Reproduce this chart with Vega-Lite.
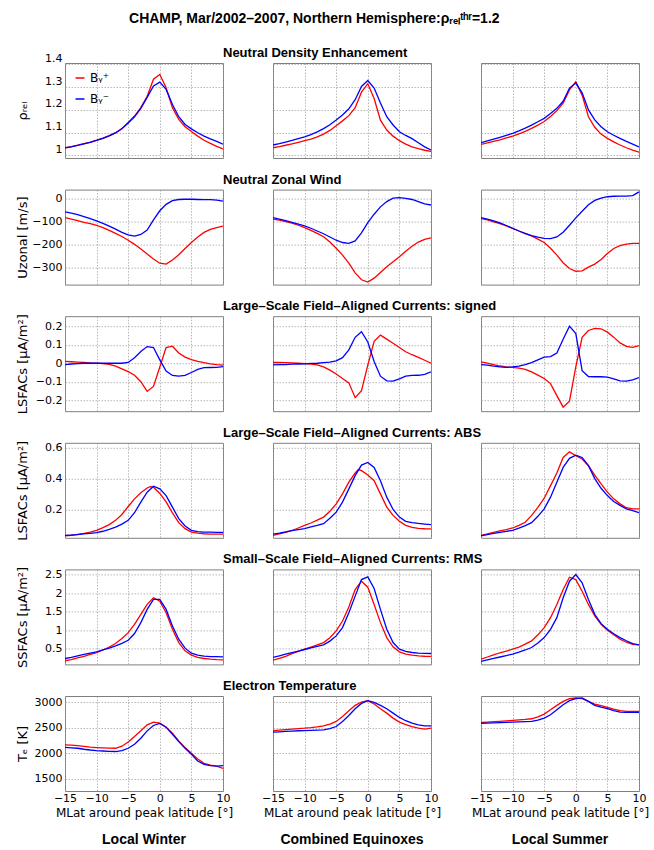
{
"$schema": "https://vega.github.io/schema/vega-lite/v6.json",
"padding": {"left": 15, "top": 11, "right": 5, "bottom": 5},
"background": "white",
"title": {"text": "CHAMP, Mar/2002–2007, Northern Hemisphere:ρᵣₑₗᵗʰʳ=1.2", "anchor": "middle", "fontSize": 14, "offset": 21, "dx": -18, "font": "Liberation Sans", "fontWeight": "bold"},
"config": {
 "font": "DejaVu Sans",
 "view": {"stroke": "#7f7f7f", "strokeWidth": 1},
 "axis": {"grid": true, "gridColor": "#9a9a9a", "gridDash": [1.5, 1.5], "gridWidth": 0.7, "gridOpacity": 1, "domain": false, "ticks": false, "labelFont": "DejaVu Sans", "labelFontSize": 11, "labelColor": "#000", "labelPadding": 3, "labelFlush": false, "labelOverlap": false, "titleFont": "DejaVu Sans", "titleFontWeight": "normal", "titleColor": "#000", "titleFontSize": 12, "format": "~f"},
 "axisY": {"minExtent": 30, "maxExtent": 30, "titlePadding": 6, "titleFontSize": 13},
 "axisX": {"tickSize": 0, "labelPadding": 1, "titlePadding": 4},
 "title": {"font": "Liberation Sans", "fontWeight": "bold", "fontSize": 13, "color": "#000"}
},
"bounds": "flush",
"columns": 3,
"spacing": {"row": 31.6, "column": 50},
"datasets": {
"r1c1": [
{"x":-15,"s":"+","v":1.034},{"x":-14,"s":"+","v":1.039},{"x":-13,"s":"+","v":1.045},{"x":-12,"s":"+","v":1.052},{"x":-11,"s":"+","v":1.059},{"x":-10,"s":"+","v":1.067},{"x":-9,"s":"+","v":1.076},{"x":-8,"s":"+","v":1.087},{"x":-7,"s":"+","v":1.1},{"x":-6,"s":"+","v":1.118},{"x":-5,"s":"+","v":1.145},{"x":-4,"s":"+","v":1.173},{"x":-3,"s":"+","v":1.21},{"x":-2,"s":"+","v":1.26},{"x":-1,"s":"+","v":1.335},{"x":0,"s":"+","v":1.356},{"x":1,"s":"+","v":1.297},{"x":2,"s":"+","v":1.21},{"x":3,"s":"+","v":1.158},{"x":4,"s":"+","v":1.126},{"x":5,"s":"+","v":1.105},{"x":6,"s":"+","v":1.085},{"x":7,"s":"+","v":1.067},{"x":8,"s":"+","v":1.053},{"x":9,"s":"+","v":1.04},{"x":10,"s":"+","v":1.029},
{"x":-15,"s":"-","v":1.033},{"x":-14,"s":"-","v":1.038},{"x":-13,"s":"-","v":1.044},{"x":-12,"s":"-","v":1.051},{"x":-11,"s":"-","v":1.058},{"x":-10,"s":"-","v":1.066},{"x":-9,"s":"-","v":1.075},{"x":-8,"s":"-","v":1.086},{"x":-7,"s":"-","v":1.099},{"x":-6,"s":"-","v":1.117},{"x":-5,"s":"-","v":1.143},{"x":-4,"s":"-","v":1.17},{"x":-3,"s":"-","v":1.207},{"x":-2,"s":"-","v":1.255},{"x":-1,"s":"-","v":1.305},{"x":0,"s":"-","v":1.322},{"x":1,"s":"-","v":1.29},{"x":2,"s":"-","v":1.224},{"x":3,"s":"-","v":1.17},{"x":4,"s":"-","v":1.136},{"x":5,"s":"-","v":1.117},{"x":6,"s":"-","v":1.1},{"x":7,"s":"-","v":1.085},{"x":8,"s":"-","v":1.073},{"x":9,"s":"-","v":1.062},{"x":10,"s":"-","v":1.05}
],
"r1c2": [
{"x":-15,"s":"+","v":1.034},{"x":-14,"s":"+","v":1.039},{"x":-13,"s":"+","v":1.045},{"x":-12,"s":"+","v":1.051},{"x":-11,"s":"+","v":1.058},{"x":-10,"s":"+","v":1.065},{"x":-9,"s":"+","v":1.072},{"x":-8,"s":"+","v":1.082},{"x":-7,"s":"+","v":1.094},{"x":-6,"s":"+","v":1.11},{"x":-5,"s":"+","v":1.131},{"x":-4,"s":"+","v":1.152},{"x":-3,"s":"+","v":1.175},{"x":-2,"s":"+","v":1.21},{"x":-1,"s":"+","v":1.278},{"x":0,"s":"+","v":1.315},{"x":1,"s":"+","v":1.25},{"x":2,"s":"+","v":1.155},{"x":3,"s":"+","v":1.112},{"x":4,"s":"+","v":1.085},{"x":5,"s":"+","v":1.065},{"x":6,"s":"+","v":1.05},{"x":7,"s":"+","v":1.038},{"x":8,"s":"+","v":1.03},{"x":9,"s":"+","v":1.023},{"x":10,"s":"+","v":1.018},
{"x":-15,"s":"-","v":1.046},{"x":-14,"s":"-","v":1.052},{"x":-13,"s":"-","v":1.059},{"x":-12,"s":"-","v":1.066},{"x":-11,"s":"-","v":1.074},{"x":-10,"s":"-","v":1.082},{"x":-9,"s":"-","v":1.092},{"x":-8,"s":"-","v":1.104},{"x":-7,"s":"-","v":1.118},{"x":-6,"s":"-","v":1.135},{"x":-5,"s":"-","v":1.156},{"x":-4,"s":"-","v":1.178},{"x":-3,"s":"-","v":1.205},{"x":-2,"s":"-","v":1.245},{"x":-1,"s":"-","v":1.303},{"x":0,"s":"-","v":1.329},{"x":1,"s":"-","v":1.296},{"x":2,"s":"-","v":1.23},{"x":3,"s":"-","v":1.17},{"x":4,"s":"-","v":1.134},{"x":5,"s":"-","v":1.104},{"x":6,"s":"-","v":1.088},{"x":7,"s":"-","v":1.074},{"x":8,"s":"-","v":1.056},{"x":9,"s":"-","v":1.038},{"x":10,"s":"-","v":1.024}
],
"r1c3": [
{"x":-15,"s":"+","v":1.049},{"x":-14,"s":"+","v":1.055},{"x":-13,"s":"+","v":1.062},{"x":-12,"s":"+","v":1.069},{"x":-11,"s":"+","v":1.077},{"x":-10,"s":"+","v":1.085},{"x":-9,"s":"+","v":1.095},{"x":-8,"s":"+","v":1.106},{"x":-7,"s":"+","v":1.119},{"x":-6,"s":"+","v":1.133},{"x":-5,"s":"+","v":1.149},{"x":-4,"s":"+","v":1.171},{"x":-3,"s":"+","v":1.197},{"x":-2,"s":"+","v":1.23},{"x":-1,"s":"+","v":1.288},{"x":0,"s":"+","v":1.324},{"x":1,"s":"+","v":1.265},{"x":2,"s":"+","v":1.17},{"x":3,"s":"+","v":1.124},{"x":4,"s":"+","v":1.094},{"x":5,"s":"+","v":1.075},{"x":6,"s":"+","v":1.06},{"x":7,"s":"+","v":1.046},{"x":8,"s":"+","v":1.034},{"x":9,"s":"+","v":1.024},{"x":10,"s":"+","v":1.015},
{"x":-15,"s":"-","v":1.056},{"x":-14,"s":"-","v":1.064},{"x":-13,"s":"-","v":1.072},{"x":-12,"s":"-","v":1.08},{"x":-11,"s":"-","v":1.088},{"x":-10,"s":"-","v":1.097},{"x":-9,"s":"-","v":1.108},{"x":-8,"s":"-","v":1.12},{"x":-7,"s":"-","v":1.133},{"x":-6,"s":"-","v":1.148},{"x":-5,"s":"-","v":1.163},{"x":-4,"s":"-","v":1.184},{"x":-3,"s":"-","v":1.207},{"x":-2,"s":"-","v":1.238},{"x":-1,"s":"-","v":1.296},{"x":0,"s":"-","v":1.318},{"x":1,"s":"-","v":1.275},{"x":2,"s":"-","v":1.2},{"x":3,"s":"-","v":1.156},{"x":4,"s":"-","v":1.126},{"x":5,"s":"-","v":1.104},{"x":6,"s":"-","v":1.089},{"x":7,"s":"-","v":1.075},{"x":8,"s":"-","v":1.062},{"x":9,"s":"-","v":1.05},{"x":10,"s":"-","v":1.038}
],
"r2c1": [
{"x":-15,"s":"+","v":-82},{"x":-14,"s":"+","v":-88},{"x":-13,"s":"+","v":-95},{"x":-12,"s":"+","v":-102},{"x":-11,"s":"+","v":-108},{"x":-10,"s":"+","v":-115},{"x":-9,"s":"+","v":-125},{"x":-8,"s":"+","v":-137},{"x":-7,"s":"+","v":-150},{"x":-6,"s":"+","v":-164},{"x":-5,"s":"+","v":-180},{"x":-4,"s":"+","v":-198},{"x":-3,"s":"+","v":-218},{"x":-2,"s":"+","v":-240},{"x":-1,"s":"+","v":-262},{"x":0,"s":"+","v":-280},{"x":1,"s":"+","v":-284},{"x":2,"s":"+","v":-266},{"x":3,"s":"+","v":-243},{"x":4,"s":"+","v":-216},{"x":5,"s":"+","v":-190},{"x":6,"s":"+","v":-166},{"x":7,"s":"+","v":-146},{"x":8,"s":"+","v":-133},{"x":9,"s":"+","v":-125},{"x":10,"s":"+","v":-119},
{"x":-15,"s":"-","v":-57},{"x":-14,"s":"-","v":-62},{"x":-13,"s":"-","v":-69},{"x":-12,"s":"-","v":-77},{"x":-11,"s":"-","v":-86},{"x":-10,"s":"-","v":-96},{"x":-9,"s":"-","v":-107},{"x":-8,"s":"-","v":-119},{"x":-7,"s":"-","v":-132},{"x":-6,"s":"-","v":-146},{"x":-5,"s":"-","v":-157},{"x":-4,"s":"-","v":-162},{"x":-3,"s":"-","v":-155},{"x":-2,"s":"-","v":-136},{"x":-1,"s":"-","v":-92},{"x":0,"s":"-","v":-52},{"x":1,"s":"-","v":-24},{"x":2,"s":"-","v":-8},{"x":3,"s":"-","v":-3},{"x":4,"s":"-","v":-2},{"x":5,"s":"-","v":-2},{"x":6,"s":"-","v":-3},{"x":7,"s":"-","v":-4},{"x":8,"s":"-","v":-4},{"x":9,"s":"-","v":-6},{"x":10,"s":"-","v":-10}
],
"r2c2": [
{"x":-15,"s":"+","v":-88},{"x":-14,"s":"+","v":-93},{"x":-13,"s":"+","v":-99},{"x":-12,"s":"+","v":-106},{"x":-11,"s":"+","v":-115},{"x":-10,"s":"+","v":-125},{"x":-9,"s":"+","v":-137},{"x":-8,"s":"+","v":-150},{"x":-7,"s":"+","v":-165},{"x":-6,"s":"+","v":-188},{"x":-5,"s":"+","v":-215},{"x":-4,"s":"+","v":-245},{"x":-3,"s":"+","v":-280},{"x":-2,"s":"+","v":-322},{"x":-1,"s":"+","v":-352},{"x":0,"s":"+","v":-362},{"x":1,"s":"+","v":-345},{"x":2,"s":"+","v":-320},{"x":3,"s":"+","v":-295},{"x":4,"s":"+","v":-274},{"x":5,"s":"+","v":-252},{"x":6,"s":"+","v":-228},{"x":7,"s":"+","v":-206},{"x":8,"s":"+","v":-188},{"x":9,"s":"+","v":-176},{"x":10,"s":"+","v":-170},
{"x":-15,"s":"-","v":-82},{"x":-14,"s":"-","v":-88},{"x":-13,"s":"-","v":-95},{"x":-12,"s":"-","v":-102},{"x":-11,"s":"-","v":-110},{"x":-10,"s":"-","v":-118},{"x":-9,"s":"-","v":-128},{"x":-8,"s":"-","v":-140},{"x":-7,"s":"-","v":-152},{"x":-6,"s":"-","v":-166},{"x":-5,"s":"-","v":-180},{"x":-4,"s":"-","v":-190},{"x":-3,"s":"-","v":-194},{"x":-2,"s":"-","v":-183},{"x":-1,"s":"-","v":-148},{"x":0,"s":"-","v":-104},{"x":1,"s":"-","v":-67},{"x":2,"s":"-","v":-35},{"x":3,"s":"-","v":-12},{"x":4,"s":"-","v":3},{"x":5,"s":"-","v":5},{"x":6,"s":"-","v":2},{"x":7,"s":"-","v":-3},{"x":8,"s":"-","v":-12},{"x":9,"s":"-","v":-22},{"x":10,"s":"-","v":-27}
],
"r2c3": [
{"x":-15,"s":"+","v":-86},{"x":-14,"s":"+","v":-92},{"x":-13,"s":"+","v":-100},{"x":-12,"s":"+","v":-108},{"x":-11,"s":"+","v":-118},{"x":-10,"s":"+","v":-129},{"x":-9,"s":"+","v":-140},{"x":-8,"s":"+","v":-150},{"x":-7,"s":"+","v":-161},{"x":-6,"s":"+","v":-175},{"x":-5,"s":"+","v":-190},{"x":-4,"s":"+","v":-215},{"x":-3,"s":"+","v":-245},{"x":-2,"s":"+","v":-278},{"x":-1,"s":"+","v":-303},{"x":0,"s":"+","v":-315},{"x":1,"s":"+","v":-313},{"x":2,"s":"+","v":-297},{"x":3,"s":"+","v":-284},{"x":4,"s":"+","v":-264},{"x":5,"s":"+","v":-238},{"x":6,"s":"+","v":-216},{"x":7,"s":"+","v":-204},{"x":8,"s":"+","v":-197},{"x":9,"s":"+","v":-194},{"x":10,"s":"+","v":-194},
{"x":-15,"s":"-","v":-82},{"x":-14,"s":"-","v":-88},{"x":-13,"s":"-","v":-96},{"x":-12,"s":"-","v":-105},{"x":-11,"s":"-","v":-116},{"x":-10,"s":"-","v":-128},{"x":-9,"s":"-","v":-140},{"x":-8,"s":"-","v":-151},{"x":-7,"s":"-","v":-160},{"x":-6,"s":"-","v":-167},{"x":-5,"s":"-","v":-172},{"x":-4,"s":"-","v":-173},{"x":-3,"s":"-","v":-166},{"x":-2,"s":"-","v":-145},{"x":-1,"s":"-","v":-115},{"x":0,"s":"-","v":-83},{"x":1,"s":"-","v":-54},{"x":2,"s":"-","v":-26},{"x":3,"s":"-","v":-7},{"x":4,"s":"-","v":3},{"x":5,"s":"-","v":9},{"x":6,"s":"-","v":11},{"x":7,"s":"-","v":12},{"x":8,"s":"-","v":12},{"x":9,"s":"-","v":14},{"x":10,"s":"-","v":30}
],
"r3c1": [
{"x":-15,"s":"+","v":0.01},{"x":-14,"s":"+","v":0.008},{"x":-13,"s":"+","v":0.006},{"x":-12,"s":"+","v":0.004},{"x":-11,"s":"+","v":0.002},{"x":-10,"s":"+","v":0.001},{"x":-9,"s":"+","v":-0.002},{"x":-8,"s":"+","v":-0.006},{"x":-7,"s":"+","v":-0.016},{"x":-6,"s":"+","v":-0.03},{"x":-5,"s":"+","v":-0.045},{"x":-4,"s":"+","v":-0.065},{"x":-3,"s":"+","v":-0.1},{"x":-2,"s":"+","v":-0.152},{"x":-1,"s":"+","v":-0.125},{"x":0,"s":"+","v":-0.02},{"x":1,"s":"+","v":0.085},{"x":2,"s":"+","v":0.092},{"x":3,"s":"+","v":0.055},{"x":4,"s":"+","v":0.033},{"x":5,"s":"+","v":0.02},{"x":6,"s":"+","v":0.01},{"x":7,"s":"+","v":0.003},{"x":8,"s":"+","v":-0.003},{"x":9,"s":"+","v":-0.008},{"x":10,"s":"+","v":-0.01},
{"x":-15,"s":"-","v":-0.007},{"x":-14,"s":"-","v":-0.004},{"x":-13,"s":"-","v":-0.002},{"x":-12,"s":"-","v":0},{"x":-11,"s":"-","v":0},{"x":-10,"s":"-","v":0},{"x":-9,"s":"-","v":0},{"x":-8,"s":"-","v":0},{"x":-7,"s":"-","v":0},{"x":-6,"s":"-","v":0},{"x":-5,"s":"-","v":0.004},{"x":-4,"s":"-","v":0.03},{"x":-3,"s":"-","v":0.063},{"x":-2,"s":"-","v":0.09},{"x":-1,"s":"-","v":0.085},{"x":0,"s":"-","v":0.018},{"x":1,"s":"-","v":-0.042},{"x":2,"s":"-","v":-0.066},{"x":3,"s":"-","v":-0.07},{"x":4,"s":"-","v":-0.065},{"x":5,"s":"-","v":-0.05},{"x":6,"s":"-","v":-0.033},{"x":7,"s":"-","v":-0.024},{"x":8,"s":"-","v":-0.023},{"x":9,"s":"-","v":-0.022},{"x":10,"s":"-","v":-0.018}
],
"r3c2": [
{"x":-15,"s":"+","v":0.004},{"x":-14,"s":"+","v":0.004},{"x":-13,"s":"+","v":0.003},{"x":-12,"s":"+","v":0.002},{"x":-11,"s":"+","v":0},{"x":-10,"s":"+","v":-0.002},{"x":-9,"s":"+","v":-0.005},{"x":-8,"s":"+","v":-0.009},{"x":-7,"s":"+","v":-0.02},{"x":-6,"s":"+","v":-0.037},{"x":-5,"s":"+","v":-0.058},{"x":-4,"s":"+","v":-0.082},{"x":-3,"s":"+","v":-0.106},{"x":-2,"s":"+","v":-0.186},{"x":-1,"s":"+","v":-0.148},{"x":0,"s":"+","v":-0.01},{"x":1,"s":"+","v":0.118},{"x":2,"s":"+","v":0.152},{"x":3,"s":"+","v":0.13},{"x":4,"s":"+","v":0.108},{"x":5,"s":"+","v":0.085},{"x":6,"s":"+","v":0.062},{"x":7,"s":"+","v":0.046},{"x":8,"s":"+","v":0.032},{"x":9,"s":"+","v":0.016},{"x":10,"s":"+","v":0},
{"x":-15,"s":"-","v":-0.009},{"x":-14,"s":"-","v":-0.008},{"x":-13,"s":"-","v":-0.007},{"x":-12,"s":"-","v":-0.005},{"x":-11,"s":"-","v":-0.004},{"x":-10,"s":"-","v":-0.003},{"x":-9,"s":"-","v":-0.001},{"x":-8,"s":"-","v":0},{"x":-7,"s":"-","v":0.003},{"x":-6,"s":"-","v":0.006},{"x":-5,"s":"-","v":0.013},{"x":-4,"s":"-","v":0.03},{"x":-3,"s":"-","v":0.072},{"x":-2,"s":"-","v":0.14},{"x":-1,"s":"-","v":0.17},{"x":0,"s":"-","v":0.115},{"x":1,"s":"-","v":0.009},{"x":2,"s":"-","v":-0.07},{"x":3,"s":"-","v":-0.095},{"x":4,"s":"-","v":-0.097},{"x":5,"s":"-","v":-0.084},{"x":6,"s":"-","v":-0.07},{"x":7,"s":"-","v":-0.066},{"x":8,"s":"-","v":-0.065},{"x":9,"s":"-","v":-0.06},{"x":10,"s":"-","v":-0.046}
],
"r3c3": [
{"x":-15,"s":"+","v":0.007},{"x":-14,"s":"+","v":0},{"x":-13,"s":"+","v":-0.008},{"x":-12,"s":"+","v":-0.015},{"x":-11,"s":"+","v":-0.02},{"x":-10,"s":"+","v":-0.022},{"x":-9,"s":"+","v":-0.026},{"x":-8,"s":"+","v":-0.033},{"x":-7,"s":"+","v":-0.047},{"x":-6,"s":"+","v":-0.064},{"x":-5,"s":"+","v":-0.082},{"x":-4,"s":"+","v":-0.11},{"x":-3,"s":"+","v":-0.175},{"x":-2,"s":"+","v":-0.237},{"x":-1,"s":"+","v":-0.205},{"x":0,"s":"+","v":-0.02},{"x":1,"s":"+","v":0.14},{"x":2,"s":"+","v":0.177},{"x":3,"s":"+","v":0.188},{"x":4,"s":"+","v":0.186},{"x":5,"s":"+","v":0.168},{"x":6,"s":"+","v":0.141},{"x":7,"s":"+","v":0.11},{"x":8,"s":"+","v":0.091},{"x":9,"s":"+","v":0.086},{"x":10,"s":"+","v":0.095},
{"x":-15,"s":"-","v":-0.007},{"x":-14,"s":"-","v":-0.01},{"x":-13,"s":"-","v":-0.016},{"x":-12,"s":"-","v":-0.02},{"x":-11,"s":"-","v":-0.022},{"x":-10,"s":"-","v":-0.02},{"x":-9,"s":"-","v":-0.016},{"x":-8,"s":"-","v":-0.008},{"x":-7,"s":"-","v":0.003},{"x":-6,"s":"-","v":0.018},{"x":-5,"s":"-","v":0.033},{"x":-4,"s":"-","v":0.036},{"x":-3,"s":"-","v":0.055},{"x":-2,"s":"-","v":0.13},{"x":-1,"s":"-","v":0.2},{"x":0,"s":"-","v":0.16},{"x":1,"s":"-","v":-0.04},{"x":2,"s":"-","v":-0.072},{"x":3,"s":"-","v":-0.073},{"x":4,"s":"-","v":-0.073},{"x":5,"s":"-","v":-0.075},{"x":6,"s":"-","v":-0.085},{"x":7,"s":"-","v":-0.095},{"x":8,"s":"-","v":-0.097},{"x":9,"s":"-","v":-0.09},{"x":10,"s":"-","v":-0.077}
],
"r4c1": [
{"x":-15,"s":"+","v":0.032},{"x":-14,"s":"+","v":0.036},{"x":-13,"s":"+","v":0.042},{"x":-12,"s":"+","v":0.048},{"x":-11,"s":"+","v":0.057},{"x":-10,"s":"+","v":0.068},{"x":-9,"s":"+","v":0.085},{"x":-8,"s":"+","v":0.105},{"x":-7,"s":"+","v":0.132},{"x":-6,"s":"+","v":0.17},{"x":-5,"s":"+","v":0.221},{"x":-4,"s":"+","v":0.27},{"x":-3,"s":"+","v":0.309},{"x":-2,"s":"+","v":0.34},{"x":-1.5,"s":"+","v":0.348},{"x":-1,"s":"+","v":0.345},{"x":0,"s":"+","v":0.305},{"x":1,"s":"+","v":0.25},{"x":2,"s":"+","v":0.18},{"x":3,"s":"+","v":0.117},{"x":4,"s":"+","v":0.079},{"x":5,"s":"+","v":0.057},{"x":6,"s":"+","v":0.05},{"x":7,"s":"+","v":0.046},{"x":8,"s":"+","v":0.044},{"x":9,"s":"+","v":0.043},{"x":10,"s":"+","v":0.043},
{"x":-15,"s":"-","v":0.036},{"x":-14,"s":"-","v":0.038},{"x":-13,"s":"-","v":0.041},{"x":-12,"s":"-","v":0.045},{"x":-11,"s":"-","v":0.049},{"x":-10,"s":"-","v":0.053},{"x":-9,"s":"-","v":0.062},{"x":-8,"s":"-","v":0.074},{"x":-7,"s":"-","v":0.089},{"x":-6,"s":"-","v":0.108},{"x":-5,"s":"-","v":0.132},{"x":-4,"s":"-","v":0.181},{"x":-3,"s":"-","v":0.249},{"x":-2,"s":"-","v":0.313},{"x":-1,"s":"-","v":0.351},{"x":0,"s":"-","v":0.334},{"x":1,"s":"-","v":0.291},{"x":2,"s":"-","v":0.217},{"x":3,"s":"-","v":0.143},{"x":4,"s":"-","v":0.096},{"x":5,"s":"-","v":0.068},{"x":6,"s":"-","v":0.06},{"x":7,"s":"-","v":0.057},{"x":8,"s":"-","v":0.056},{"x":9,"s":"-","v":0.055},{"x":10,"s":"-","v":0.055}
],
"r4c2": [
{"x":-15,"s":"+","v":0.036},{"x":-14,"s":"+","v":0.045},{"x":-13,"s":"+","v":0.055},{"x":-12,"s":"+","v":0.067},{"x":-11,"s":"+","v":0.083},{"x":-10,"s":"+","v":0.1},{"x":-9,"s":"+","v":0.115},{"x":-8,"s":"+","v":0.133},{"x":-7,"s":"+","v":0.153},{"x":-6,"s":"+","v":0.19},{"x":-5,"s":"+","v":0.238},{"x":-4,"s":"+","v":0.302},{"x":-3,"s":"+","v":0.377},{"x":-2,"s":"+","v":0.436},{"x":-1.5,"s":"+","v":0.458},{"x":-1,"s":"+","v":0.451},{"x":0,"s":"+","v":0.423},{"x":1,"s":"+","v":0.387},{"x":2,"s":"+","v":0.302},{"x":3,"s":"+","v":0.217},{"x":4,"s":"+","v":0.164},{"x":5,"s":"+","v":0.126},{"x":6,"s":"+","v":0.1},{"x":7,"s":"+","v":0.087},{"x":8,"s":"+","v":0.081},{"x":9,"s":"+","v":0.078},{"x":10,"s":"+","v":0.077},
{"x":-15,"s":"-","v":0.043},{"x":-14,"s":"-","v":0.05},{"x":-13,"s":"-","v":0.058},{"x":-12,"s":"-","v":0.066},{"x":-11,"s":"-","v":0.073},{"x":-10,"s":"-","v":0.079},{"x":-9,"s":"-","v":0.09},{"x":-8,"s":"-","v":0.1},{"x":-7,"s":"-","v":0.111},{"x":-6,"s":"-","v":0.145},{"x":-5,"s":"-","v":0.185},{"x":-4,"s":"-","v":0.249},{"x":-3,"s":"-","v":0.334},{"x":-2,"s":"-","v":0.419},{"x":-1,"s":"-","v":0.487},{"x":0,"s":"-","v":0.504},{"x":1,"s":"-","v":0.472},{"x":2,"s":"-","v":0.387},{"x":3,"s":"-","v":0.281},{"x":4,"s":"-","v":0.202},{"x":5,"s":"-","v":0.153},{"x":6,"s":"-","v":0.126},{"x":7,"s":"-","v":0.117},{"x":8,"s":"-","v":0.112},{"x":9,"s":"-","v":0.108},{"x":10,"s":"-","v":0.104}
],
"r4c3": [
{"x":-15,"s":"+","v":0.036},{"x":-14,"s":"+","v":0.045},{"x":-13,"s":"+","v":0.055},{"x":-12,"s":"+","v":0.064},{"x":-11,"s":"+","v":0.073},{"x":-10,"s":"+","v":0.083},{"x":-9,"s":"+","v":0.1},{"x":-8,"s":"+","v":0.12},{"x":-7,"s":"+","v":0.164},{"x":-6,"s":"+","v":0.215},{"x":-5,"s":"+","v":0.274},{"x":-4,"s":"+","v":0.355},{"x":-3,"s":"+","v":0.436},{"x":-2,"s":"+","v":0.536},{"x":-1,"s":"+","v":0.572},{"x":0,"s":"+","v":0.547},{"x":1,"s":"+","v":0.526},{"x":2,"s":"+","v":0.483},{"x":3,"s":"+","v":0.423},{"x":4,"s":"+","v":0.366},{"x":5,"s":"+","v":0.313},{"x":6,"s":"+","v":0.27},{"x":7,"s":"+","v":0.238},{"x":8,"s":"+","v":0.213},{"x":9,"s":"+","v":0.206},{"x":10,"s":"+","v":0.206},
{"x":-15,"s":"-","v":0.032},{"x":-14,"s":"-","v":0.04},{"x":-13,"s":"-","v":0.048},{"x":-12,"s":"-","v":0.055},{"x":-11,"s":"-","v":0.061},{"x":-10,"s":"-","v":0.068},{"x":-9,"s":"-","v":0.082},{"x":-8,"s":"-","v":0.098},{"x":-7,"s":"-","v":0.117},{"x":-6,"s":"-","v":0.158},{"x":-5,"s":"-","v":0.206},{"x":-4,"s":"-","v":0.281},{"x":-3,"s":"-","v":0.377},{"x":-2,"s":"-","v":0.472},{"x":-1,"s":"-","v":0.53},{"x":0,"s":"-","v":0.551},{"x":1,"s":"-","v":0.536},{"x":2,"s":"-","v":0.483},{"x":3,"s":"-","v":0.4},{"x":4,"s":"-","v":0.338},{"x":5,"s":"-","v":0.291},{"x":6,"s":"-","v":0.253},{"x":7,"s":"-","v":0.228},{"x":8,"s":"-","v":0.206},{"x":9,"s":"-","v":0.194},{"x":10,"s":"-","v":0.181}
],
"r5c1": [
{"x":-15,"s":"+","v":0.168},{"x":-14,"s":"+","v":0.2},{"x":-13,"s":"+","v":0.245},{"x":-12,"s":"+","v":0.29},{"x":-11,"s":"+","v":0.34},{"x":-10,"s":"+","v":0.39},{"x":-9,"s":"+","v":0.46},{"x":-8,"s":"+","v":0.54},{"x":-7,"s":"+","v":0.635},{"x":-6,"s":"+","v":0.77},{"x":-5,"s":"+","v":0.93},{"x":-4,"s":"+","v":1.155},{"x":-3,"s":"+","v":1.424},{"x":-2,"s":"+","v":1.693},{"x":-1,"s":"+","v":1.872},{"x":0,"s":"+","v":1.78},{"x":1,"s":"+","v":1.47},{"x":2,"s":"+","v":1.02},{"x":3,"s":"+","v":0.66},{"x":4,"s":"+","v":0.437},{"x":5,"s":"+","v":0.32},{"x":6,"s":"+","v":0.26},{"x":7,"s":"+","v":0.23},{"x":8,"s":"+","v":0.21},{"x":9,"s":"+","v":0.2},{"x":10,"s":"+","v":0.195},
{"x":-15,"s":"-","v":0.23},{"x":-14,"s":"-","v":0.26},{"x":-13,"s":"-","v":0.3},{"x":-12,"s":"-","v":0.34},{"x":-11,"s":"-","v":0.375},{"x":-10,"s":"-","v":0.41},{"x":-9,"s":"-","v":0.46},{"x":-8,"s":"-","v":0.51},{"x":-7,"s":"-","v":0.572},{"x":-6,"s":"-","v":0.64},{"x":-5,"s":"-","v":0.724},{"x":-4,"s":"-","v":0.904},{"x":-3,"s":"-","v":1.2},{"x":-2,"s":"-","v":1.558},{"x":-1,"s":"-","v":1.827},{"x":0,"s":"-","v":1.827},{"x":1,"s":"-","v":1.558},{"x":2,"s":"-","v":1.11},{"x":3,"s":"-","v":0.751},{"x":4,"s":"-","v":0.509},{"x":5,"s":"-","v":0.374},{"x":6,"s":"-","v":0.32},{"x":7,"s":"-","v":0.294},{"x":8,"s":"-","v":0.283},{"x":9,"s":"-","v":0.278},{"x":10,"s":"-","v":0.276}
],
"r5c2": [
{"x":-15,"s":"+","v":0.186},{"x":-14,"s":"+","v":0.23},{"x":-13,"s":"+","v":0.29},{"x":-12,"s":"+","v":0.36},{"x":-11,"s":"+","v":0.42},{"x":-10,"s":"+","v":0.482},{"x":-9,"s":"+","v":0.54},{"x":-8,"s":"+","v":0.6},{"x":-7,"s":"+","v":0.66},{"x":-6,"s":"+","v":0.79},{"x":-5,"s":"+","v":0.975},{"x":-4,"s":"+","v":1.244},{"x":-3,"s":"+","v":1.621},{"x":-2,"s":"+","v":2.096},{"x":-1,"s":"+","v":2.32},{"x":0,"s":"+","v":2.159},{"x":1,"s":"+","v":1.693},{"x":2,"s":"+","v":1.2},{"x":3,"s":"+","v":0.796},{"x":4,"s":"+","v":0.545},{"x":5,"s":"+","v":0.41},{"x":6,"s":"+","v":0.35},{"x":7,"s":"+","v":0.32},{"x":8,"s":"+","v":0.3},{"x":9,"s":"+","v":0.29},{"x":10,"s":"+","v":0.285},
{"x":-15,"s":"-","v":0.258},{"x":-14,"s":"-","v":0.3},{"x":-13,"s":"-","v":0.345},{"x":-12,"s":"-","v":0.39},{"x":-11,"s":"-","v":0.43},{"x":-10,"s":"-","v":0.473},{"x":-9,"s":"-","v":0.52},{"x":-8,"s":"-","v":0.56},{"x":-7,"s":"-","v":0.599},{"x":-6,"s":"-","v":0.7},{"x":-5,"s":"-","v":0.841},{"x":-4,"s":"-","v":1.065},{"x":-3,"s":"-","v":1.469},{"x":-2,"s":"-","v":1.917},{"x":-1,"s":"-","v":2.366},{"x":0,"s":"-","v":2.437},{"x":1,"s":"-","v":2.123},{"x":2,"s":"-","v":1.558},{"x":3,"s":"-","v":1.02},{"x":4,"s":"-","v":0.661},{"x":5,"s":"-","v":0.482},{"x":6,"s":"-","v":0.42},{"x":7,"s":"-","v":0.392},{"x":8,"s":"-","v":0.375},{"x":9,"s":"-","v":0.367},{"x":10,"s":"-","v":0.365}
],
"r5c3": [
{"x":-15,"s":"+","v":0.213},{"x":-14,"s":"+","v":0.27},{"x":-13,"s":"+","v":0.33},{"x":-12,"s":"+","v":0.385},{"x":-11,"s":"+","v":0.43},{"x":-10,"s":"+","v":0.482},{"x":-9,"s":"+","v":0.54},{"x":-8,"s":"+","v":0.62},{"x":-7,"s":"+","v":0.706},{"x":-6,"s":"+","v":0.87},{"x":-5,"s":"+","v":1.065},{"x":-4,"s":"+","v":1.334},{"x":-3,"s":"+","v":1.693},{"x":-2,"s":"+","v":2.096},{"x":-1,"s":"+","v":2.428},{"x":0,"s":"+","v":2.365},{"x":1,"s":"+","v":2.05},{"x":2,"s":"+","v":1.693},{"x":3,"s":"+","v":1.379},{"x":4,"s":"+","v":1.155},{"x":5,"s":"+","v":0.993},{"x":6,"s":"+","v":0.87},{"x":7,"s":"+","v":0.751},{"x":8,"s":"+","v":0.67},{"x":9,"s":"+","v":0.61},{"x":10,"s":"+","v":0.599},
{"x":-15,"s":"-","v":0.15},{"x":-14,"s":"-","v":0.19},{"x":-13,"s":"-","v":0.23},{"x":-12,"s":"-","v":0.27},{"x":-11,"s":"-","v":0.31},{"x":-10,"s":"-","v":0.348},{"x":-9,"s":"-","v":0.4},{"x":-8,"s":"-","v":0.46},{"x":-7,"s":"-","v":0.527},{"x":-6,"s":"-","v":0.65},{"x":-5,"s":"-","v":0.796},{"x":-4,"s":"-","v":1.02},{"x":-3,"s":"-","v":1.334},{"x":-2,"s":"-","v":1.872},{"x":-1,"s":"-","v":2.321},{"x":0,"s":"-","v":2.5},{"x":1,"s":"-","v":2.276},{"x":2,"s":"-","v":1.827},{"x":3,"s":"-","v":1.424},{"x":4,"s":"-","v":1.173},{"x":5,"s":"-","v":1.02},{"x":6,"s":"-","v":0.9},{"x":7,"s":"-","v":0.796},{"x":8,"s":"-","v":0.71},{"x":9,"s":"-","v":0.635},{"x":10,"s":"-","v":0.599}
],
"r6c1": [
{"x":-15,"s":"+","v":2164},{"x":-14,"s":"+","v":2160},{"x":-13,"s":"+","v":2151},{"x":-12,"s":"+","v":2135},{"x":-11,"s":"+","v":2120},{"x":-10,"s":"+","v":2112},{"x":-9,"s":"+","v":2105},{"x":-8,"s":"+","v":2100},{"x":-7,"s":"+","v":2099},{"x":-6,"s":"+","v":2140},{"x":-5,"s":"+","v":2220},{"x":-4,"s":"+","v":2329},{"x":-3,"s":"+","v":2441},{"x":-2,"s":"+","v":2559},{"x":-1,"s":"+","v":2612},{"x":0,"s":"+","v":2592},{"x":1,"s":"+","v":2513},{"x":2,"s":"+","v":2395},{"x":3,"s":"+","v":2243},{"x":4,"s":"+","v":2112},{"x":5,"s":"+","v":2000},{"x":6,"s":"+","v":1888},{"x":7,"s":"+","v":1803},{"x":8,"s":"+","v":1770},{"x":9,"s":"+","v":1750},{"x":10,"s":"+","v":1704},
{"x":-15,"s":"-","v":2118},{"x":-14,"s":"-","v":2108},{"x":-13,"s":"-","v":2099},{"x":-12,"s":"-","v":2080},{"x":-11,"s":"-","v":2065},{"x":-10,"s":"-","v":2053},{"x":-9,"s":"-","v":2045},{"x":-8,"s":"-","v":2038},{"x":-7,"s":"-","v":2035},{"x":-6,"s":"-","v":2053},{"x":-5,"s":"-","v":2099},{"x":-4,"s":"-","v":2178},{"x":-3,"s":"-","v":2296},{"x":-2,"s":"-","v":2441},{"x":-1,"s":"-","v":2546},{"x":0,"s":"-","v":2586},{"x":1,"s":"-","v":2513},{"x":2,"s":"-","v":2375},{"x":3,"s":"-","v":2230},{"x":4,"s":"-","v":2099},{"x":5,"s":"-","v":1980},{"x":6,"s":"-","v":1849},{"x":7,"s":"-","v":1783},{"x":8,"s":"-","v":1757},{"x":9,"s":"-","v":1750},{"x":10,"s":"-","v":1757}
],
"r6c2": [
{"x":-15,"s":"+","v":2447},{"x":-14,"s":"+","v":2455},{"x":-13,"s":"+","v":2465},{"x":-12,"s":"+","v":2475},{"x":-11,"s":"+","v":2484},{"x":-10,"s":"+","v":2493},{"x":-9,"s":"+","v":2505},{"x":-8,"s":"+","v":2520},{"x":-7,"s":"+","v":2539},{"x":-6,"s":"+","v":2575},{"x":-5,"s":"+","v":2625},{"x":-4,"s":"+","v":2724},{"x":-3,"s":"+","v":2836},{"x":-2,"s":"+","v":2941},{"x":-1,"s":"+","v":3007},{"x":0,"s":"+","v":3033},{"x":1,"s":"+","v":2967},{"x":2,"s":"+","v":2875},{"x":3,"s":"+","v":2789},{"x":4,"s":"+","v":2691},{"x":5,"s":"+","v":2612},{"x":6,"s":"+","v":2565},{"x":7,"s":"+","v":2526},{"x":8,"s":"+","v":2495},{"x":9,"s":"+","v":2474},{"x":10,"s":"+","v":2493},
{"x":-15,"s":"-","v":2414},{"x":-14,"s":"-","v":2422},{"x":-13,"s":"-","v":2430},{"x":-12,"s":"-","v":2437},{"x":-11,"s":"-","v":2443},{"x":-10,"s":"-","v":2447},{"x":-9,"s":"-","v":2452},{"x":-8,"s":"-","v":2456},{"x":-7,"s":"-","v":2461},{"x":-6,"s":"-","v":2485},{"x":-5,"s":"-","v":2526},{"x":-4,"s":"-","v":2625},{"x":-3,"s":"-","v":2743},{"x":-2,"s":"-","v":2875},{"x":-1,"s":"-","v":2980},{"x":0,"s":"-","v":3033},{"x":1,"s":"-","v":3000},{"x":2,"s":"-","v":2941},{"x":3,"s":"-","v":2875},{"x":4,"s":"-","v":2789},{"x":5,"s":"-","v":2704},{"x":6,"s":"-","v":2640},{"x":7,"s":"-","v":2592},{"x":8,"s":"-","v":2560},{"x":9,"s":"-","v":2539},{"x":10,"s":"-","v":2539}
],
"r6c3": [
{"x":-15,"s":"+","v":2605},{"x":-14,"s":"+","v":2612},{"x":-13,"s":"+","v":2620},{"x":-12,"s":"+","v":2628},{"x":-11,"s":"+","v":2636},{"x":-10,"s":"+","v":2645},{"x":-9,"s":"+","v":2655},{"x":-8,"s":"+","v":2665},{"x":-7,"s":"+","v":2678},{"x":-6,"s":"+","v":2715},{"x":-5,"s":"+","v":2770},{"x":-4,"s":"+","v":2855},{"x":-3,"s":"+","v":2941},{"x":-2,"s":"+","v":3020},{"x":-1,"s":"+","v":3072},{"x":0,"s":"+","v":3086},{"x":1,"s":"+","v":3072},{"x":2,"s":"+","v":3020},{"x":3,"s":"+","v":2967},{"x":4,"s":"+","v":2935},{"x":5,"s":"+","v":2901},{"x":6,"s":"+","v":2865},{"x":7,"s":"+","v":2836},{"x":8,"s":"+","v":2822},{"x":9,"s":"+","v":2822},{"x":10,"s":"+","v":2822},
{"x":-15,"s":"-","v":2586},{"x":-14,"s":"-","v":2592},{"x":-13,"s":"-","v":2598},{"x":-12,"s":"-","v":2604},{"x":-11,"s":"-","v":2608},{"x":-10,"s":"-","v":2612},{"x":-9,"s":"-","v":2616},{"x":-8,"s":"-","v":2620},{"x":-7,"s":"-","v":2625},{"x":-6,"s":"-","v":2652},{"x":-5,"s":"-","v":2691},{"x":-4,"s":"-","v":2757},{"x":-3,"s":"-","v":2855},{"x":-2,"s":"-","v":2954},{"x":-1,"s":"-","v":3033},{"x":0,"s":"-","v":3072},{"x":1,"s":"-","v":3086},{"x":2,"s":"-","v":3020},{"x":3,"s":"-","v":2941},{"x":4,"s":"-","v":2905},{"x":5,"s":"-","v":2875},{"x":6,"s":"-","v":2840},{"x":7,"s":"-","v":2809},{"x":8,"s":"-","v":2803},{"x":9,"s":"-","v":2803},{"x":10,"s":"-","v":2803}
]
},
"concat": [
{"width":158,"height":95,"data":{"name":"r1c1"},"mark":{"type":"line","strokeWidth":1.3,"clip":true},"encoding":{"x":{"field":"x","type":"quantitative","scale":{"domain":[-15,10],"nice":false},"axis":{"values":[-15,-10,-5,0,5,10],"labels":false,"title":null}},"y":{"field":"v","type":"quantitative","scale":{"domain":[0.989,1.406],"nice":false,"zero":false},"axis":{"values":[1,1.1,1.2,1.3,1.4],"labelOffset":-6,"title":"ρᵣₑₗ"}},"color":{"field":"s","type":"nominal","scale":{"domain":["+","-"],"range":["#ff0000","#0000ff"]},"legend":{"orient":"top-left","offset":6,"padding":3,"title":null,"symbolType":"stroke","symbolStrokeWidth":1.5,"symbolSize":80,"labelFont":"DejaVu Sans","labelFontSize":12,"rowPadding":9,"labelExpr":"datum.label == '+' ? 'Bᵧ⁺' : 'Bᵧ⁻'"}}}},
{"width":158,"height":95,"data":{"name":"r1c2"},"title":{"text":"Neutral Density Enhancement","anchor":"start","dx":-50,"frame":"group","offset":3},"mark":{"type":"line","strokeWidth":1.3,"clip":true},"encoding":{"x":{"field":"x","type":"quantitative","scale":{"domain":[-15,10],"nice":false},"axis":{"values":[-15,-10,-5,0,5,10],"labels":false,"title":null}},"y":{"field":"v","type":"quantitative","scale":{"domain":[0.989,1.406],"nice":false,"zero":false},"axis":{"values":[1,1.1,1.2,1.3,1.4],"labels":false,"title":null}},"color":{"field":"s","type":"nominal","scale":{"domain":["+","-"],"range":["#ff0000","#0000ff"]},"legend":null}}},
{"width":158,"height":95,"data":{"name":"r1c3"},"mark":{"type":"line","strokeWidth":1.3,"clip":true},"encoding":{"x":{"field":"x","type":"quantitative","scale":{"domain":[-15,10],"nice":false},"axis":{"values":[-15,-10,-5,0,5,10],"labels":false,"title":null}},"y":{"field":"v","type":"quantitative","scale":{"domain":[0.989,1.406],"nice":false,"zero":false},"axis":{"values":[1,1.1,1.2,1.3,1.4],"labels":false,"title":null}},"color":{"field":"s","type":"nominal","scale":{"domain":["+","-"],"range":["#ff0000","#0000ff"]},"legend":null}}},

{"width":158,"height":95,"data":{"name":"r2c1"},"mark":{"type":"line","strokeWidth":1.3,"clip":true},"encoding":{"x":{"field":"x","type":"quantitative","scale":{"domain":[-15,10],"nice":false},"axis":{"values":[-15,-10,-5,0,5,10],"labels":false,"title":null}},"y":{"field":"v","type":"quantitative","scale":{"domain":[-373,40],"nice":false,"zero":false},"axis":{"values":[-300,-200,-100,0],"title":"Uzonal [m/s]"}},"color":{"field":"s","type":"nominal","scale":{"domain":["+","-"],"range":["#ff0000","#0000ff"]},"legend":null}}},
{"width":158,"height":95,"data":{"name":"r2c2"},"title":{"text":"Neutral Zonal Wind","anchor":"start","dx":-50,"frame":"group","offset":3},"mark":{"type":"line","strokeWidth":1.3,"clip":true},"encoding":{"x":{"field":"x","type":"quantitative","scale":{"domain":[-15,10],"nice":false},"axis":{"values":[-15,-10,-5,0,5,10],"labels":false,"title":null}},"y":{"field":"v","type":"quantitative","scale":{"domain":[-373,40],"nice":false,"zero":false},"axis":{"values":[-300,-200,-100,0],"labels":false,"title":null}},"color":{"field":"s","type":"nominal","scale":{"domain":["+","-"],"range":["#ff0000","#0000ff"]},"legend":null}}},
{"width":158,"height":95,"data":{"name":"r2c3"},"mark":{"type":"line","strokeWidth":1.3,"clip":true},"encoding":{"x":{"field":"x","type":"quantitative","scale":{"domain":[-15,10],"nice":false},"axis":{"values":[-15,-10,-5,0,5,10],"labels":false,"title":null}},"y":{"field":"v","type":"quantitative","scale":{"domain":[-373,40],"nice":false,"zero":false},"axis":{"values":[-300,-200,-100,0],"labels":false,"title":null}},"color":{"field":"s","type":"nominal","scale":{"domain":["+","-"],"range":["#ff0000","#0000ff"]},"legend":null}}},

{"width":158,"height":95,"data":{"name":"r3c1"},"mark":{"type":"line","strokeWidth":1.3,"clip":true},"encoding":{"x":{"field":"x","type":"quantitative","scale":{"domain":[-15,10],"nice":false},"axis":{"values":[-15,-10,-5,0,5,10],"labels":false,"title":null}},"y":{"field":"v","type":"quantitative","scale":{"domain":[-0.259,0.254],"nice":false,"zero":false},"axis":{"values":[-0.2,-0.1,0,0.1,0.2],"title":"LSFACs [μA/m²]"}},"color":{"field":"s","type":"nominal","scale":{"domain":["+","-"],"range":["#ff0000","#0000ff"]},"legend":null}}},
{"width":158,"height":95,"data":{"name":"r3c2"},"title":{"text":"Large–Scale Field–Aligned Currents: signed","anchor":"start","dx":-50,"frame":"group","offset":3},"mark":{"type":"line","strokeWidth":1.3,"clip":true},"encoding":{"x":{"field":"x","type":"quantitative","scale":{"domain":[-15,10],"nice":false},"axis":{"values":[-15,-10,-5,0,5,10],"labels":false,"title":null}},"y":{"field":"v","type":"quantitative","scale":{"domain":[-0.259,0.254],"nice":false,"zero":false},"axis":{"values":[-0.2,-0.1,0,0.1,0.2],"labels":false,"title":null}},"color":{"field":"s","type":"nominal","scale":{"domain":["+","-"],"range":["#ff0000","#0000ff"]},"legend":null}}},
{"width":158,"height":95,"data":{"name":"r3c3"},"mark":{"type":"line","strokeWidth":1.3,"clip":true},"encoding":{"x":{"field":"x","type":"quantitative","scale":{"domain":[-15,10],"nice":false},"axis":{"values":[-15,-10,-5,0,5,10],"labels":false,"title":null}},"y":{"field":"v","type":"quantitative","scale":{"domain":[-0.259,0.254],"nice":false,"zero":false},"axis":{"values":[-0.2,-0.1,0,0.1,0.2],"labels":false,"title":null}},"color":{"field":"s","type":"nominal","scale":{"domain":["+","-"],"range":["#ff0000","#0000ff"]},"legend":null}}},

{"width":158,"height":95,"data":{"name":"r4c1"},"mark":{"type":"line","strokeWidth":1.3,"clip":true},"encoding":{"x":{"field":"x","type":"quantitative","scale":{"domain":[-15,10],"nice":false},"axis":{"values":[-15,-10,-5,0,5,10],"labels":false,"title":null}},"y":{"field":"v","type":"quantitative","scale":{"domain":[0.02,0.63],"nice":false,"zero":false},"axis":{"values":[0.2,0.4,0.6],"title":"LSFACs [μA/m²]"}},"color":{"field":"s","type":"nominal","scale":{"domain":["+","-"],"range":["#ff0000","#0000ff"]},"legend":null}}},
{"width":158,"height":95,"data":{"name":"r4c2"},"title":{"text":"Large–Scale Field–Aligned Currents: ABS","anchor":"start","dx":-50,"frame":"group","offset":3},"mark":{"type":"line","strokeWidth":1.3,"clip":true},"encoding":{"x":{"field":"x","type":"quantitative","scale":{"domain":[-15,10],"nice":false},"axis":{"values":[-15,-10,-5,0,5,10],"labels":false,"title":null}},"y":{"field":"v","type":"quantitative","scale":{"domain":[0.02,0.63],"nice":false,"zero":false},"axis":{"values":[0.2,0.4,0.6],"labels":false,"title":null}},"color":{"field":"s","type":"nominal","scale":{"domain":["+","-"],"range":["#ff0000","#0000ff"]},"legend":null}}},
{"width":158,"height":95,"data":{"name":"r4c3"},"mark":{"type":"line","strokeWidth":1.3,"clip":true},"encoding":{"x":{"field":"x","type":"quantitative","scale":{"domain":[-15,10],"nice":false},"axis":{"values":[-15,-10,-5,0,5,10],"labels":false,"title":null}},"y":{"field":"v","type":"quantitative","scale":{"domain":[0.02,0.63],"nice":false,"zero":false},"axis":{"values":[0.2,0.4,0.6],"labels":false,"title":null}},"color":{"field":"s","type":"nominal","scale":{"domain":["+","-"],"range":["#ff0000","#0000ff"]},"legend":null}}},

{"width":158,"height":95,"data":{"name":"r5c1"},"mark":{"type":"line","strokeWidth":1.3,"clip":true},"encoding":{"x":{"field":"x","type":"quantitative","scale":{"domain":[-15,10],"nice":false},"axis":{"values":[-15,-10,-5,0,5,10],"labels":false,"title":null}},"y":{"field":"v","type":"quantitative","scale":{"domain":[0.07,2.64],"nice":false,"zero":false},"axis":{"values":[0.5,1,1.5,2,2.5],"title":"SSFACs [μA/m²]"}},"color":{"field":"s","type":"nominal","scale":{"domain":["+","-"],"range":["#ff0000","#0000ff"]},"legend":null}}},
{"width":158,"height":95,"data":{"name":"r5c2"},"title":{"text":"Small–Scale Field–Aligned Currents: RMS","anchor":"start","dx":-50,"frame":"group","offset":3},"mark":{"type":"line","strokeWidth":1.3,"clip":true},"encoding":{"x":{"field":"x","type":"quantitative","scale":{"domain":[-15,10],"nice":false},"axis":{"values":[-15,-10,-5,0,5,10],"labels":false,"title":null}},"y":{"field":"v","type":"quantitative","scale":{"domain":[0.07,2.64],"nice":false,"zero":false},"axis":{"values":[0.5,1,1.5,2,2.5],"labels":false,"title":null}},"color":{"field":"s","type":"nominal","scale":{"domain":["+","-"],"range":["#ff0000","#0000ff"]},"legend":null}}},
{"width":158,"height":95,"data":{"name":"r5c3"},"mark":{"type":"line","strokeWidth":1.3,"clip":true},"encoding":{"x":{"field":"x","type":"quantitative","scale":{"domain":[-15,10],"nice":false},"axis":{"values":[-15,-10,-5,0,5,10],"labels":false,"title":null}},"y":{"field":"v","type":"quantitative","scale":{"domain":[0.07,2.64],"nice":false,"zero":false},"axis":{"values":[0.5,1,1.5,2,2.5],"labels":false,"title":null}},"color":{"field":"s","type":"nominal","scale":{"domain":["+","-"],"range":["#ff0000","#0000ff"]},"legend":null}}},

{"width":158,"height":95,"data":{"name":"r6c1"},"mark":{"type":"line","strokeWidth":1.3,"clip":true},"encoding":{"x":{"field":"x","type":"quantitative","scale":{"domain":[-15,10],"nice":false},"axis":{"values":[-15,-10,-5,0,5,10],"title":"MLat around peak latitude [°]"}},"y":{"field":"v","type":"quantitative","scale":{"domain":[1260,3125],"nice":false,"zero":false},"axis":{"values":[1500,2000,2500,3000],"title":"Tₑ [K]"}},"color":{"field":"s","type":"nominal","scale":{"domain":["+","-"],"range":["#ff0000","#0000ff"]},"legend":null}}},
{"width":158,"height":95,"data":{"name":"r6c2"},"title":{"text":"Electron Temperature","anchor":"start","dx":-50,"frame":"group","offset":3},"mark":{"type":"line","strokeWidth":1.3,"clip":true},"encoding":{"x":{"field":"x","type":"quantitative","scale":{"domain":[-15,10],"nice":false},"axis":{"values":[-15,-10,-5,0,5,10],"title":"MLat around peak latitude [°]"}},"y":{"field":"v","type":"quantitative","scale":{"domain":[1260,3125],"nice":false,"zero":false},"axis":{"values":[1500,2000,2500,3000],"labels":false,"title":null}},"color":{"field":"s","type":"nominal","scale":{"domain":["+","-"],"range":["#ff0000","#0000ff"]},"legend":null}}},
{"width":158,"height":95,"data":{"name":"r6c3"},"mark":{"type":"line","strokeWidth":1.3,"clip":true},"encoding":{"x":{"field":"x","type":"quantitative","scale":{"domain":[-15,10],"nice":false},"axis":{"values":[-15,-10,-5,0,5,10],"title":"MLat around peak latitude [°]"}},"y":{"field":"v","type":"quantitative","scale":{"domain":[1260,3125],"nice":false,"zero":false},"axis":{"values":[1500,2000,2500,3000],"labels":false,"title":null}},"color":{"field":"s","type":"nominal","scale":{"domain":["+","-"],"range":["#ff0000","#0000ff"]},"legend":null}}},

{"width":158,"height":35,"view":{"stroke":null},"data":{"values":[{"t":"Local Winter"}]},"mark":{"type":"text","font":"Liberation Sans","fontWeight":"bold","fontSize":14},"encoding":{"text":{"field":"t"}}},
{"width":158,"height":35,"view":{"stroke":null},"data":{"values":[{"t":"Combined Equinoxes"}]},"mark":{"type":"text","font":"Liberation Sans","fontWeight":"bold","fontSize":14},"encoding":{"text":{"field":"t"}}},
{"width":158,"height":35,"view":{"stroke":null},"data":{"values":[{"t":"Local Summer"}]},"mark":{"type":"text","font":"Liberation Sans","fontWeight":"bold","fontSize":14},"encoding":{"text":{"field":"t"}}}
]
}
